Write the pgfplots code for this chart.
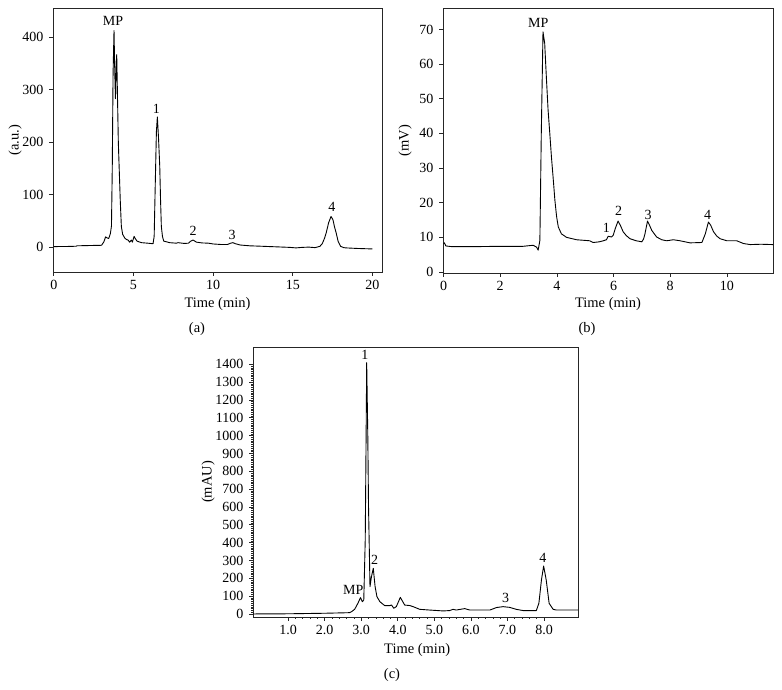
\documentclass[border=0pt]{standalone}
\usepackage{pgfplots}
\pgfplotsset{compat=1.18}
\usepackage{fontspec}
\setmainfont{Liberation Serif}

\newcommand{\lblfont}{\fontsize{14.5}{16}\selectfont}

\pgfplotsset{
  chrom/.style={
    scale only axis,
    axis line style={black!85, line width=0.7pt},
    tick style={black!85, line width=0.6pt},
    tick align=outside,
    major tick length=4pt,
    xtick pos=bottom, ytick pos=left,
    every tick label/.append style={font=\fontsize{14}{16}\selectfont, text=black},
    /pgf/number format/assume math mode=true,
    /pgf/number format/set thousands separator={},
    xlabel={Time (min)},
    xticklabel style={yshift=-1pt},
    yticklabel style={xshift=-2pt},
    scaled ticks=false,
  },
  curve/.style={black, line width=0.9pt, line join=round},
}
\tikzset{pk/.style={font=\fontsize{14}{16}\selectfont}}

\begin{document}
\begin{tikzpicture}
\path (0pt,0pt) rectangle (782pt,690pt);

% (a)
\begin{axis}[chrom,
  at={(53pt,418pt)}, anchor=south west,
  width=329pt, height=264pt,
  xmin=-0.05, xmax=20.6, ymin=-48, ymax=456,
  xtick={0,5,10,15,20}, ytick={0,100,200,300,400},
  ylabel={(a.u.)},
  every axis y label/.style={at={(axis description cs:-0.115,0.5)}, rotate=90, anchor=center, font=\lblfont},
  every axis x label/.style={at={(axis description cs:0.5,-0.121)}, anchor=center, font=\lblfont},
]
\addplot[curve] coordinates {
(0,0.5)(1.0,0.8)(1.4,1.2)(1.45,2)(2.2,2.5)(3.0,3)(3.15,10)(3.25,19)(3.35,17)(3.45,16)(3.55,25)(3.62,40)
(3.67,150)(3.72,330)(3.78,413)(3.83,330)(3.87,283)(3.91,340)(3.95,367)(3.99,300)(4.05,200)(4.1,154)
(4.17,90)(4.24,39)(4.32,24)(4.45,17)(4.56,14)(4.66,13)(4.76,9)(4.87,13)(4.93,9)(5.04,20)(5.13,15)(5.22,11)
(5.5,8)(5.9,7)(6.23,6)(6.3,20)(6.37,122)(6.44,220)(6.5,248)(6.57,210)(6.65,154)(6.7,90)(6.75,39)
(6.82,20)(6.9,11)(7.27,8)(7.7,7)(7.8,8)(8.2,6.5)(8.45,7)(8.6,11)(8.74,13)(8.85,11)(8.95,9)(9.3,7.5)
(9.7,7)(10.0,5.5)(10.5,4.5)(10.9,4.5)(11.1,7)(11.24,8)(11.4,6)(11.7,3.5)(12.3,2)(13,1.2)(14,0)(14.8,-1)
(15.2,-2)(15.6,-1)(16.0,-0.5)(16.4,-1.5)(16.7,1)(16.85,6)(17.0,17)(17.1,27)(17.25,46)(17.4,58)(17.52,52)
(17.62,38)(17.72,27)(17.85,10)(18.0,1)(18.2,-1.5)(18.35,-2)(19.0,-3)(20.0,-4)
};
\node[pk] at (axis cs:3.72,431) {MP};
\node[pk] at (axis cs:6.44,264) {1};
\node[pk] at (axis cs:8.74,31) {2};
\node[pk] at (axis cs:11.2,23) {3};
\node[pk] at (axis cs:17.45,76) {4};
\end{axis}

% (b)
\begin{axis}[chrom,
  at={(443pt,417pt)}, anchor=south west,
  width=330pt, height=265pt,
  xmin=-0.02, xmax=11.63, ymin=-0.3, ymax=76.2,
  xtick={0,2,4,6,8,10}, ytick={0,10,20,30,40,50,60,70},
  ylabel={(mV)},
  every axis y label/.style={at={(axis description cs:-0.115,0.5)}, rotate=90, anchor=center, font=\lblfont},
  every axis x label/.style={at={(axis description cs:0.5,-0.117)}, anchor=center, font=\lblfont},
]
\addplot[curve] coordinates {
(0,8.2)(0.03,8.4)(0.08,7.5)(0.3,7.3)(1.0,7.3)(2.0,7.4)(2.8,7.4)(3.16,7.7)(3.28,7.2)(3.34,6.3)(3.4,9.1)
(3.45,40)(3.51,69.3)(3.57,66)(3.63,56)(3.69,46.7)(3.75,40)(3.81,33)(3.87,27)(3.93,20.7)(3.99,16)
(4.05,13)(4.16,11)(4.34,10)(4.69,9.3)(5.16,9.0)(5.28,8.5)(5.5,8.7)(5.64,9)(5.75,9.3)(5.81,10.3)
(5.93,10.1)(5.99,10.6)(6.06,12.5)(6.16,14.7)(6.25,13.3)(6.34,11.6)(6.45,10.5)(6.58,9.6)(6.8,9)(7.0,8.7)
(7.06,9.5)(7.11,11)(7.2,14.7)(7.27,13.5)(7.35,12)(7.52,10.1)(7.7,9.3)(7.88,9)(8.11,9.3)(8.35,9)(8.7,8.4)
(9.12,8.5)(9.24,11)(9.35,14.4)(9.43,13.5)(9.53,11.6)(9.64,10.4)(9.76,9.6)(10,9)(10.35,9)(10.59,8.2)
(10.83,7.9)(11.2,8.0)(11.63,7.9)
};
\node[pk] at (axis cs:3.34,71.8) {MP};
\node[pk] at (axis cs:5.75,12.7) {1};
\node[pk] at (axis cs:6.18,17.5) {2};
\node[pk] at (axis cs:7.22,16.6) {3};
\node[pk] at (axis cs:9.32,16.6) {4};
\end{axis}

% (c)
\begin{axis}[chrom,
  at={(253pt,73pt)}, anchor=south west,
  width=325pt, height=270pt,
  xmin=0.04, xmax=8.93, ymin=-17, ymax=1497,
  xtick={1,2,3,4,5,6,7,8}, ytick={0,100,...,1400},
  minor x tick num=4, minor y tick num=9,
  minor tick length=2pt,
  xticklabel style={/pgf/number format/.cd, fixed, fixed zerofill, precision=1},
  ylabel={(mAU)},
  every axis y label/.style={at={(axis description cs:-0.138,0.5)}, rotate=90, anchor=center, font=\lblfont},
  every axis x label/.style={at={(axis description cs:0.505,-0.122)}, anchor=center, font=\lblfont},
]
\addplot[curve] coordinates {
(0.04,0)(1.0,1)(2.0,4)(2.64,7)(2.69,8)(2.73,12)(2.82,26)(2.91,60)(2.98,92)(3.03,69)(3.07,78)(3.11,415)
(3.13,900)(3.15,1409)(3.18,1000)(3.2,602)(3.24,153)(3.28,209)(3.33,256)(3.38,153)(3.43,97)(3.51,69)
(3.64,47)(3.78,47)(3.83,50)(3.89,32)(3.96,41)(4.07,93)(4.19,50)(4.33,47)(4.42,41)(4.6,26)(4.87,22)
(5.24,17)(5.42,19)(5.51,26)(5.6,22)(5.83,30)(5.97,22)(6.52,22)(6.7,36)(6.88,41)(7.06,37)(7.24,26)
(7.43,19)(7.79,19)(7.86,60)(7.93,191)(7.99,269)(8.06,191)(8.14,60)(8.25,26)(8.34,22)(8.93,22)
};
\node[pk] at (axis cs:2.78,133) {MP};
\node[pk] at (axis cs:3.1,1455) {1};
\node[pk] at (axis cs:3.37,306) {2};
\node[pk] at (axis cs:6.95,90) {3};
\node[pk] at (axis cs:7.97,315) {4};
\end{axis}

\node[font=\lblfont] at (197pt,361pt) {(a)};
\node[font=\lblfont] at (587pt,361pt) {(b)};
\node[font=\lblfont] at (392pt,15pt) {(c)};
\end{tikzpicture}
\end{document}
